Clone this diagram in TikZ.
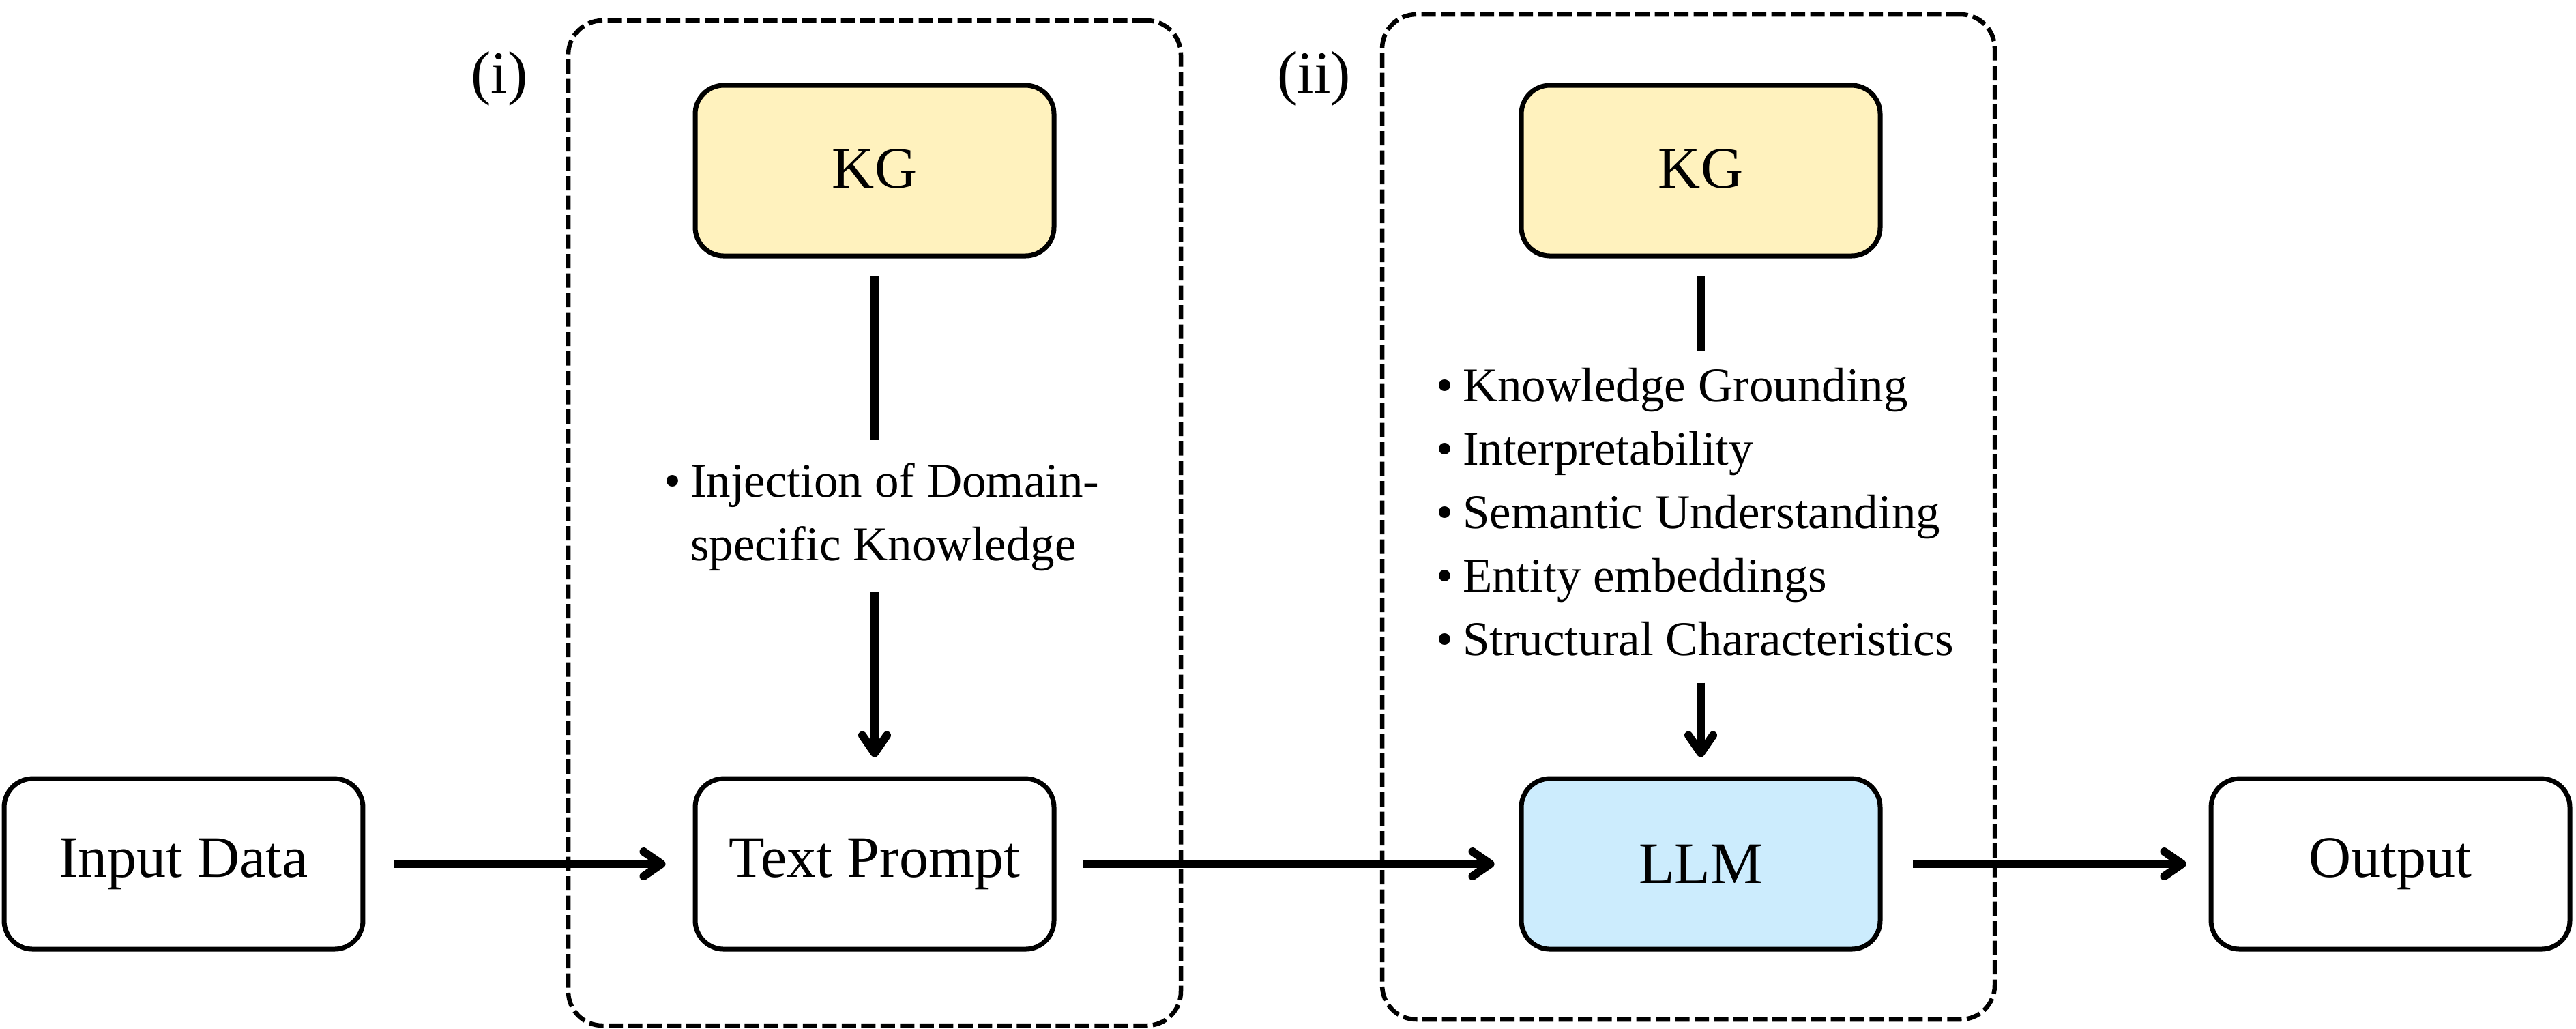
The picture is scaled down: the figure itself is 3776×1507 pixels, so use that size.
\documentclass[tikz,border=0pt]{standalone}
\usepackage{fontspec}
\setmainfont{Liberation Serif}
\usetikzlibrary{arrows.meta}
\definecolor{kgfill}{RGB}{255,242,190}
\definecolor{llmfill}{RGB}{204,236,253}
\begin{document}
\begin{tikzpicture}[x=0.1pt,y=-0.1pt,
  box/.style={draw, line width=0.7pt, rounded corners=4.2pt, minimum width=52.6pt, minimum height=25pt, inner sep=0pt, font=\fontsize{8.6}{10}\selectfont},
  group/.style={draw, dash pattern=on 2.1pt off 0.75pt, line width=0.65pt, rounded corners=5pt, minimum width=89.8pt, minimum height=147.3pt, inner sep=0pt},
  conn/.style={line width=1.2pt},
  arr/.style={conn, -{Straight Barb[length=2.6pt,width=3.6pt,line cap=round,line join=round]}},
  lbl/.style={font=\fontsize{8.8}{10}\selectfont, inner sep=0pt},
  blist/.style={font=\fontsize{7.1}{9.3}\selectfont, inner sep=0pt, anchor=west}]
\useasboundingbox (0,0) rectangle (3776,1507);
% group frames
\node[group] (g1) at (1282,766.5) {};
\node[group] (g2) at (2475,757.5) {};
\node[lbl] (l1) at (732,115) {(i)};
\node[lbl] (l2) at (1926,115) {(ii)};
% boxes
\node[box] (inp) at (269,1266) {Input Data};
\node[box] (tp) at (1282,1266) {Text Prompt};
\node[box, fill=llmfill] (llm) at (2493,1266) {LLM};
\node[box] (out) at (3504,1266) {Output};
\node[box, fill=kgfill] (kg1) at (1282,250) {\raisebox{0.6pt}{KG}};
\node[box, fill=kgfill] (kg2) at (2493,250) {\raisebox{0.6pt}{KG}};
% bullet texts
\node[blist] (inj) at (971,756) {\begin{tabular}{@{}l@{\hspace{0.2em}}l@{}}
• & Injection of Domain-\\
  & specific Knowledge
\end{tabular}};
\node[blist] (ben) at (2103,756) {\begin{tabular}{@{}l@{\hspace{0.2em}}l@{}}
• & Knowledge Grounding\\
• & Interpretability\\
• & Semantic Understanding\\
• & Entity embeddings\\
• & Structural Characteristics
\end{tabular}};
% connectors
\draw[conn, shorten <=2.6pt, shorten >=1.6pt] (kg1) -- (kg1 |- inj.north);
\draw[arr, shorten <=1.7pt, shorten >=2.8pt] (tp |- inj.south) -- (tp);
\draw[conn, shorten <=2.6pt, shorten >=0.8pt] (kg2) -- (kg2 |- ben.north);
\draw[arr, shorten <=1.0pt, shorten >=2.8pt] (llm |- ben.south) -- (llm);
\draw[arr, shorten <=4.2pt, shorten >=4pt] (inp) -- (tp);
\draw[arr, shorten <=3.8pt, shorten >=3.6pt] (tp) -- (llm);
\draw[arr, shorten <=4.4pt, shorten >=3.3pt] (llm) -- (out);
\end{tikzpicture}
\end{document}
